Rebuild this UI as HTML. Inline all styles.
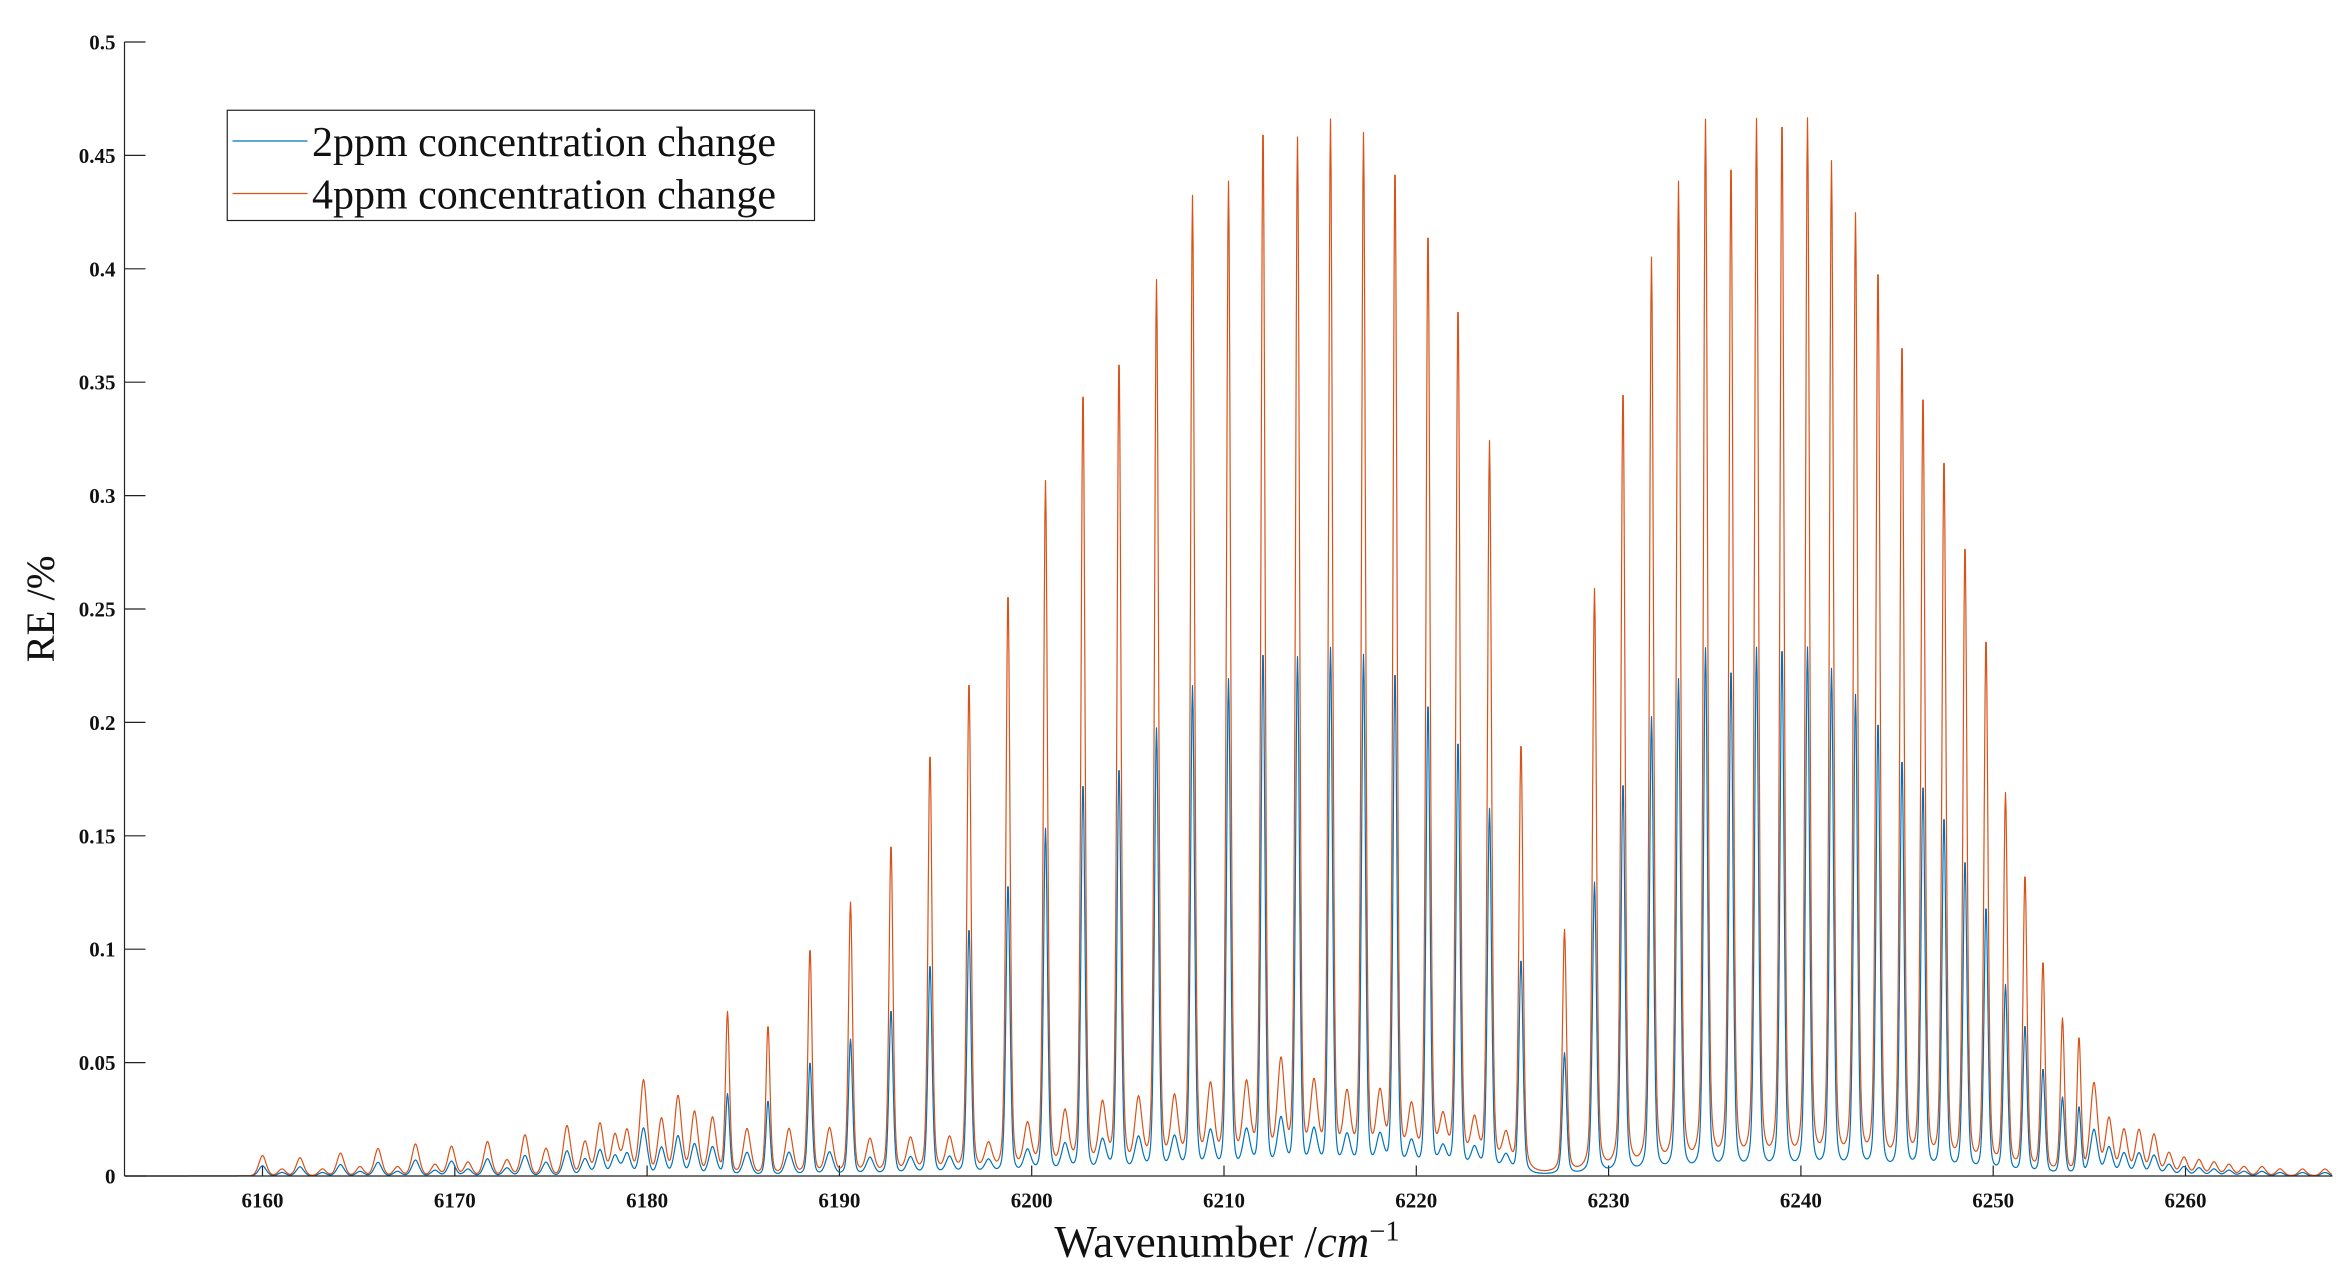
<!DOCTYPE html>
<html><head><meta charset="utf-8"><style>
html,body{margin:0;padding:0;background:#fff;}
svg{display:block;}
text{font-family:"Liberation Serif",serif;fill:#111;}
</style></head><body>
<svg id="s" width="2339" height="1288" viewBox="0 0 1559.33 858.67" xmlns="http://www.w3.org/2000/svg">
<rect width="1559.33" height="858.67" fill="#fff"/>
<g id="ticks"></g>
<path id="pb" fill="none" stroke="#0072BD" stroke-width="0.8" stroke-linejoin="round"/>
<path id="po" fill="none" stroke="#D95319" stroke-width="0.8" stroke-linejoin="round"/>
<line x1="83" y1="28" x2="83" y2="784" stroke="#222" stroke-width="0.8"/>
<line x1="83" y1="784" x2="1555" y2="784" stroke="#222" stroke-width="0.8"/>
<g id="labels"></g>
<text x="818" y="838" font-size="30" text-anchor="middle">Wavenumber /<tspan font-style="italic">cm</tspan><tspan font-size="19" dy="-11">−1</tspan></text>
<text x="0" y="0" font-size="27" text-anchor="middle" transform="translate(36,406) rotate(-90)">RE /%</text>
<rect x="151.5" y="73.5" width="391.5" height="73.5" fill="#fff" stroke="#222" stroke-width="0.8"/>
<line x1="155" y1="94" x2="205" y2="94" stroke="#0072BD" stroke-width="0.9"/>
<line x1="155" y1="129" x2="205" y2="129" stroke="#D95319" stroke-width="0.9"/>
<text x="208" y="104" font-size="28">2ppm concentration change</text>
<text x="208" y="139" font-size="28">4ppm concentration change</text>
</svg>
<script>
var NS="http://www.w3.org/2000/svg";
function xd(w){return 175+(w-6160)*12.82;}
function yd(v){return 784-v*1512;}
var tk=document.getElementById('ticks'),lb=document.getElementById('labels');
for(var w=6160;w<=6260;w+=10){
 var x=xd(w);
 var l=document.createElementNS(NS,'line');l.setAttribute('x1',x);l.setAttribute('x2',x);l.setAttribute('y1',784);l.setAttribute('y2',777);l.setAttribute('stroke','#222');l.setAttribute('stroke-width','0.8');tk.appendChild(l);
 var t=document.createElementNS(NS,'text');t.setAttribute('x',x);t.setAttribute('y',805);t.setAttribute('font-size','14');t.setAttribute('font-weight','bold');t.setAttribute('text-anchor','middle');t.textContent=w;lb.appendChild(t);
}
for(var i=0;i<=10;i++){
 var v=i*0.05,y=yd(v);
 var l=document.createElementNS(NS,'line');l.setAttribute('x1',83);l.setAttribute('x2',97);l.setAttribute('y1',y);l.setAttribute('y2',y);l.setAttribute('stroke','#222');l.setAttribute('stroke-width','0.8');tk.appendChild(l);
 var t=document.createElementNS(NS,'text');t.setAttribute('x',77);t.setAttribute('y',y+5);t.setAttribute('font-size','14');t.setAttribute('font-weight','bold');t.setAttribute('text-anchor','end');
 t.textContent=(i==0?'0':(+v.toFixed(2)).toString());lb.appendChild(t);
}
var P=[[175,.009],[188,.003],[200,.008],[215,.003],[227,.01],[240,.004],[252,.012],[265,.004],[277,.014],[290,.005],[301,.013],[312,.006],[325,.015],[338,.007],[350,.018],[364,.012],[378,.022],[390,.015],[400,.023],[410,.018],[418,.02],[429,.042],[441,.025],[452,.035],[463,.028],[475,.025],
[485,.072],[498,.02],[512,.066],[526,.02],[540,.1],[553,.02],[567,.12],[580,.015],[594,.146],[607,.015],[620,.186],[633,.015],[646,.218],[659,.012],[672,.257],[685,.02],[697,.305],[710,.025],[722,.346],[735,.028],[746,.36],[759,.03],[771,.393],[783,.03],[795,.43],[807,.035],[819,.436],[831,.035],[842,.462],[854,.045],[865,.455],[876,.035],[887,.463],[898,.03],[909,.457],[920,.03],[930,.444],[941,.025],[952,.416],[962,.02],[972,.383],[983,.02],[993,.322],[1004,.015],[1014,.19],[1043,.107],[1063,.257],[1082,.346],[1101,.402],[1119,.435],[1137,.462],[1154,.445],[1171,.462],[1188,.464],[1205,.462],[1221,.443],[1237,.42],[1252,.398],[1268,.365],[1282,.342],[1296,.314],[1310,.276],[1324,.235],[1337,.166],[1350,.131],[1362,.093],[1375,.068],[1386,.06],[1396,.04],[1406,.025],[1416,.02],[1426,.02],[1436,.018],[1446,.01],[1456,.008],[1466,.007],[1476,.006],[1486,.005],[1496,.004],[1508,.004],[1520,.003],[1535,.003],[1550,.003]];
function f(x){var s=0;for(var i=0;i<P.length;i++){var d=x-P[i][0],h=P[i][1];
 if(h>0.05){var g=1.5,sg=1.4;s+=h*(0.6*Math.exp(-d*d/(2*sg*sg))+0.4*g*g/(d*d+g*g));}
 else{var sg2=2.6;s+=h*(0.8*Math.exp(-d*d/(2*sg2*sg2))+0.2*4/(d*d+4));}}return s;}
var so="",sb="";
for(var x=83;x<=1555;x+=0.4){var v=f(x);
 so+=(x==83?"M":"L")+x.toFixed(1)+","+yd(v).toFixed(1);
 sb+=(x==83?"M":"L")+x.toFixed(1)+","+yd(v*0.5).toFixed(1);}
document.getElementById('po').setAttribute('d',so);
document.getElementById('pb').setAttribute('d',sb);
</script>
</body></html>
